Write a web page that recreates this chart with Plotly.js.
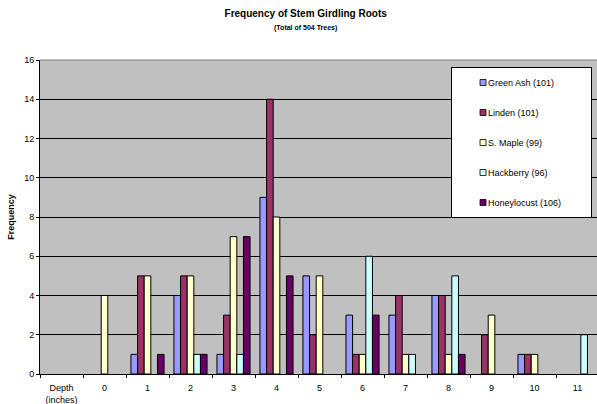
<!DOCTYPE html>
<html>
<head>
<meta charset="utf-8">
<script src="https://cdn.plot.ly/plotly-3.0.1.min.js"></script>
<style>
html,body{margin:0;padding:0;background:#fff;}
#chart{width:597px;height:404px;}
.legend .legendpoints path{transform:translate(31px,0px) scale(0.5);stroke:#000 !important;stroke-width:1.6px !important;}
.legend .legendtext{transform:translate(-4px,0px);}
</style>
</head>
<body>
<div id="chart"></div>
<script>
const categories = ["Depth<br>(inches)", "0", "1", "2", "3", "4", "5", "6", "7", "8", "9", "10", "11"];
const seriesNames = ["Green Ash (101)", "Linden (101)", "S. Maple (99)", "Hackberry (96)", "Honeylocust (106)"];
const greenAsh    = [null, 0, 1, 4, 1, 9, 5, 3, 3, 4, 0, 1, 0];
const linden      = [null, 0, 5, 5, 3, 14, 2, 1, 4, 4, 2, 1, 0];
const sMaple      = [null, 4, 5, 5, 7, 8, 5, 1, 1, 1, 3, 1, 0];
const hackberry   = [null, 0, 0, 1, 1, 0, 0, 6, 1, 5, 0, 0, 2];
const honeylocust = [null, 0, 1, 1, 7, 5, 0, 3, 0, 1, 0, 0, 0];
const colors = ["#9999FF", "#993366", "#FFFFCC", "#CCFFFF", "#660066"];
const allValues = [greenAsh, linden, sMaple, hackberry, honeylocust];

const pad = "\u00a0\u00a0\u00a0\u00a0\u00a0\u00a0\u00a0\u00a0";
const font = "Arial, Liberation Sans, sans-serif";

const traces = allValues.map((vals, i) => ({
  type: "bar",
  name: seriesNames[i] + pad,
  x: categories,
  y: vals,
  legendgroup: "g" + i,
  marker: {
    color: colors[i],
    line: {color: "#000", width: vals.map(v => (v ? 1 : 0))}
  },
  hoverinfo: "x+y+name"
}));

const layout = {
  width: 597, height: 404,
  margin: {l: 40, r: 0, t: 60, b: 30, pad: 0},
  paper_bgcolor: "#fff",
  plot_bgcolor: "#C0C0C0",
  font: {family: font, size: 9, color: "#000"},
  barmode: "group",
  bargap: 0.23,
  bargroupgap: 0,
  title: {
    text: "<b>Frequency of Stem Girdling Roots</b><br><b><span style='font-size:7px'>(Total of 504 Trees)</span></b>",
    font: {family: font, size: 10, color: "#000"},
    x: 0.512, xref: "container", xanchor: "center",
    y: 1 - 17/404, yref: "container", yanchor: "top"
  },
  xaxis: {
    type: "category",
    range: [-0.5, 12.453],
    tickson: "boundaries",
    ticks: "outside", ticklen: 3, tickcolor: "#000",
    ticklabelstandoff: 5,
    showline: true, linecolor: "#000", linewidth: 1,
    showgrid: false, zeroline: false,
    tickfont: {family: font, size: 9, color: "#000"},
    automargin: false
  },
  yaxis: {
    range: [0, 16], dtick: 2,
    ticks: "outside", ticklen: 3, tickcolor: "#000",
    showline: true, linecolor: "#000", linewidth: 1,
    showgrid: true, gridcolor: "#000", gridwidth: 1,
    zeroline: false,
    tickfont: {family: font, size: 9, color: "#000"},
    title: {text: "<b>Frequency</b>", font: {family: font, size: 9, color: "#000"}, standoff: 8},
    automargin: false
  },
  shapes: [{type: "line", xref: "paper", yref: "paper", x0: 0, x1: 1, y0: 1, y1: 1, line: {color: "#808080", width: 1}}],
  showlegend: true,
  legend: {
    x: (451 - 40) / 557, xanchor: "left",
    y: (374 - 67) / 314, yanchor: "top",
    bgcolor: "#fff", bordercolor: "#000", borderwidth: 1,
    font: {family: font, size: 9, color: "#000"},
    tracegroupgap: 11,
    traceorder: "grouped"
  }
};

Plotly.newPlot("chart", traces, layout, {displayModeBar: false, staticPlot: true});
</script>
</body>
</html>
